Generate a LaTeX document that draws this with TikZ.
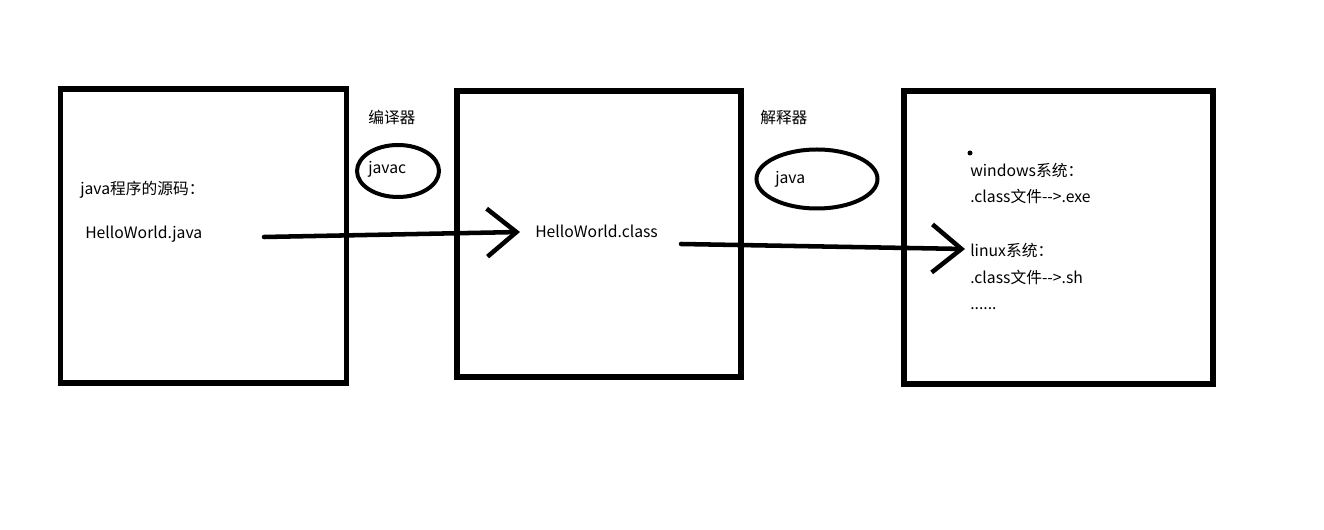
\documentclass[tikz,border=0pt]{standalone}
\usepackage{fontspec}
\setmainfont{Noto Sans CJK SC}
\usetikzlibrary{shapes.geometric,arrows.meta}
\tikzset{
  boxst/.style={draw, line width=3.8pt, rectangle, inner sep=0pt},
  ovalst/.style={draw, line width=3pt, ellipse, inner sep=0pt},
  txt/.style={anchor=west, inner sep=0pt, font=\fontsize{11.8pt}{14pt}\selectfont},
  arr/.style={line width=3.4pt, line cap=round, -{Straight Barb[length=22pt,width=36pt,line width=3.4pt]}}
}
\begin{document}
\begin{tikzpicture}[x=0.75pt,y=-0.75pt]
\useasboundingbox[fill=white] (0,0) rectangle (1324,530);
% boxes
\node[boxst, minimum width=215pt, minimum height=220.5pt] (src) at (203.5,236) {};
\node[boxst, minimum width=213pt, minimum height=214.5pt] (cls) at (599,234) {};
\node[boxst, minimum width=231.75pt, minimum height=219.75pt] (os) at (1058.5,237.5) {};
% ellipses
\node[ovalst, minimum width=61.5pt, minimum height=39pt] (javac) at (398,171) {};
\node[ovalst, minimum width=90.75pt, minimum height=44.25pt] (javaint) at (817,179) {};
% labels
\node[txt] (l1) at (368,117) {编译器};
\node[txt] (l2) at (760,118) {解释器};
\node[txt] (t1) at (368,169) {javac};
\node[txt] (t2) at (775,179) {java};
\node[txt] (s1) at (80,190) {java程序的源码：};
\node[txt] (s2) at (85,234) {HelloWorld.java};
\node[txt] (c1) at (535,231) {HelloWorld.class};
\node[txt] (w1) at (970,170) {windows系统：};
\node[txt] (w2) at (970,196) {.class文件-{}-{}>.exe};
\node[txt] (w3) at (970,250) {linux系统：};
\node[txt] (w4) at (970,277) {.class文件-{}-{}>.sh};
\node[txt] (w5) at (970,309) {......};
\fill (970,153) circle (2.5);
% arrows
\coordinate (a1s) at (264,237);
\coordinate (a1e) at (520,232);
\coordinate (a2s) at (681,244);
\coordinate (a2e) at (965,249);
\draw[arr] (a1s) -- (a1e);
\draw[arr] (a2s) -- (a2e);
\end{tikzpicture}
\end{document}
